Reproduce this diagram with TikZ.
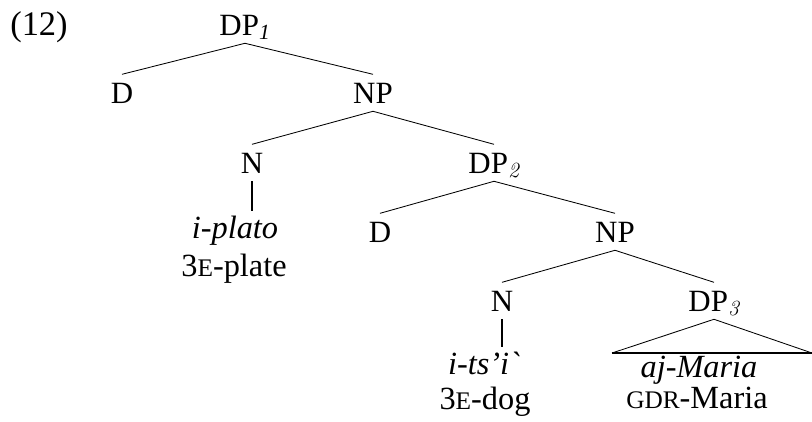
\documentclass[tikz,border=0pt]{standalone}
\usepackage{fontspec}
\setmainfont{Liberation Serif}
\newfontfamily\rawserif{Liberation Serif}
\newfontfamily\lmserif{Latin Modern Roman}
\newcommand{\smcap}[1]{{\fontsize{18}{20}\selectfont #1}}
\newcommand{\subit}[1]{\textsubscript{\textit{#1}}}
\newcommand{\sublm}[1]{\textsubscript{\lmserif\itshape #1}}

\tikzset{
  cat/.style={anchor=base, inner xsep=0pt, inner ysep=0.2cm, text height=0.51cm, text depth=0pt},
  gloss/.style={anchor=base, inner xsep=0pt, inner ysep=0.13cm, text height=0.53cm,
    font=\fontsize{23}{27}\selectfont},
  branch/.style={line width=0.6pt},
  stem/.style={line width=1pt},
}

\begin{document}
\begin{tikzpicture}[x=0.025cm,y=-0.025cm,font=\fontsize{22}{26}\selectfont]
\useasboundingbox (0,0) rectangle (812,422);

\node[anchor=base west,inner sep=0pt,font=\fontsize{24.5}{28}\selectfont] (exnum) at (10,35) {(12)};

% categories
\node[cat] (dp1) at (245,35) {DP\subit{1}};
\node[cat] (d1) at (122,103) {D};
\node[cat] (np1) at (373,103) {NP};
\node[cat] (n1) at (252,173) {N};
\node[cat] (dp2) at (494,173) {DP\sublm{2}};
\node[cat] (d2) at (380,242) {D};
\node[cat] (np2) at (615,242) {NP};
\node[cat] (n2) at (502,311) {N};
\node[cat] (dp3) at (714,311) {DP\sublm{3}};

% words and glosses
\node[gloss] (g1) at (235,238) {\textit{i-plato}};
\node[gloss] (t1) at (234,276) {3\smcap{E}-plate};
\node[gloss] (g2) at (484,374) {\textit{i-ts’i}{\rawserif\itshape\symbol{96}}};
\node[gloss] (t2) at (485,409) {3\smcap{E}-dog};
\node[gloss] (g3) at (699,377) {\textit{aj-Maria}};
\node[gloss] (t3) at (697,408) {\smcap{GDR}-Maria};

\coordinate (tl) at (612,353);
\coordinate (tr) at (812,353);

% branches
\draw[branch] (d1.north) -- (dp1.south) -- (np1.north);
\draw[branch] (n1.north) -- (np1.south) -- (dp2.north);
\draw[branch] (d2.north) -- (dp2.south) -- (np2.north);
\draw[branch] (n2.north) -- (np2.south) -- (dp3.north);
\draw[branch] (tl) -- (dp3.south) -- (tr);
\draw[stem] (tl) -- (tr);
\draw[stem] (n1.south) -- (n1.south |- g1.north);
\draw[stem] (n2.south) -- (n2.south |- g2.north);
\end{tikzpicture}
\end{document}
